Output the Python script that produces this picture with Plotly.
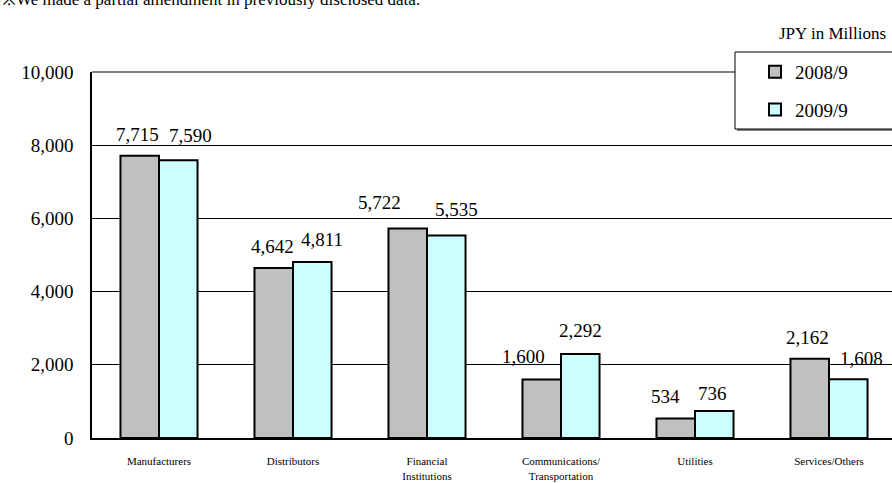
import plotly.graph_objects as go

categories = ["Manufacturers", "Distributors", "Financial<br>Institutions",
              "Communications/<br>Transportation", "Utilities", "Services/Others"]
series_names = ["2008/9", "2009/9"]
values_2008 = [7715, 4642, 5722, 1600, 534, 2162]
values_2009 = [7590, 4811, 5535, 2292, 736, 1608]
y_ticks = [0, 2000, 4000, 6000, 8000, 10000]

# label nudges (pixels) relative to bar centre / top, as in the source chart
lab_dx_2008 = [-2, -1, -28, -18, -10, -2]
lab_dy_2008 = [21, 22, 26, 23, 22, 21]
lab_dx_2009 = [12, 10, 10, 0, -2, 13]
lab_dy_2009 = [25, 22, 26, 24, 18, 21]

FONT = "Liberation Serif"
W, H = 892, 483
ML, MR, MT, MB = 92, 0, 72, 45
BARGAP = 0.425

fig = go.Figure()
fig.add_trace(go.Bar(name=series_names[0], x=list(range(len(categories))), y=values_2008,
                     marker=dict(color="#C0C0C0", line=dict(color="black", width=2)),
                     legendgroup="a"))
fig.add_trace(go.Bar(name=series_names[1], x=list(range(len(categories))), y=values_2009,
                     marker=dict(color="#CCFFFF", line=dict(color="black", width=2)),
                     legendgroup="b"))

half = (1 - BARGAP) / 4.0
annotations = []
for i in range(len(categories)):
    annotations.append(dict(x=i - half, y=values_2008[i], xref="x", yref="y",
                            text=f"{values_2008[i]:,}", showarrow=False,
                            xshift=lab_dx_2008[i], yshift=lab_dy_2008[i],
                            yanchor="middle", font=dict(family=FONT, size=19, color="black")))
    annotations.append(dict(x=i + half, y=values_2009[i], xref="x", yref="y",
                            text=f"{values_2009[i]:,}", showarrow=False,
                            xshift=lab_dx_2009[i], yshift=lab_dy_2009[i],
                            yanchor="middle", font=dict(family=FONT, size=19, color="black")))

plot_w = W - ML - MR
plot_h = H - MT - MB
def px_x(p):
    return (p - ML) / plot_w
def px_y(p):
    return (H - MB - p) / plot_h

annotations.append(dict(x=px_x(888), y=px_y(33), xref="paper", yref="paper",
                        text="JPY in Millions", showarrow=False, xanchor="right",
                        yanchor="middle", font=dict(family=FONT, size=17, color="black")))
annotations.append(dict(x=px_x(0), y=px_y(11), xref="paper", yref="paper",
                        text="※We made a partial amendment in previously disclosed data.",
                        showarrow=False, xanchor="left", yanchor="bottom",
                        font=dict(family=FONT, size=17, color="black")))

shapes = [
    # top border line (gray)
    dict(type="line", xref="paper", yref="paper", x0=0, x1=px_x(735), y0=1, y1=1,
         line=dict(color="#808080", width=2), layer="above"),
    # legend shadow
    dict(type="rect", xref="paper", yref="paper", x0=px_x(737), x1=px_x(905),
         y0=px_y(131), y1=px_y(55), fillcolor="#808080", line=dict(width=0), layer="above"),
    # legend box
    dict(type="rect", xref="paper", yref="paper", x0=px_x(735), x1=px_x(905),
         y0=px_y(129), y1=px_y(52), fillcolor="white",
         line=dict(color="black", width=1), layer="above"),
]

fig.update_layout(
    width=W, height=H,
    margin=dict(l=ML, r=MR, t=MT, b=MB, autoexpand=False),
    paper_bgcolor="white", plot_bgcolor="white",
    barmode="group", bargap=BARGAP, bargroupgap=0,
    font=dict(family=FONT, color="black"),
    showlegend=True,
    legend=dict(x=px_x(755), y=px_y(53), xanchor="left", yanchor="top",
                bgcolor="rgba(0,0,0,0)", borderwidth=0,
                font=dict(family=FONT, size=19, color="black"),
                traceorder="grouped", tracegroupgap=10, itemwidth=30),
    annotations=annotations,
    shapes=shapes,
    xaxis=dict(tickmode="array", tickvals=list(range(len(categories))), ticktext=categories,
               range=[-0.5, (W - MR - ML) / 134.0 - 0.5],
               showline=True, linecolor="black", linewidth=2,
               ticks="inside", tickson="boundaries", ticklen=5, tickcolor="black",
               showgrid=False, zeroline=False,
               tickfont=dict(family=FONT, size=11, color="black"),
               ticklabelstandoff=12),
    yaxis=dict(range=[0, 10000], tickvals=y_ticks, tickformat=",",
               showline=True, linecolor="black", linewidth=1.5,
               showgrid=True, gridcolor="black", gridwidth=1,
               zeroline=False, ticks="",
               tickfont=dict(family=FONT, size=19, color="black"),
               ticklabelstandoff=13),
)

fig.write_html("out.html")
